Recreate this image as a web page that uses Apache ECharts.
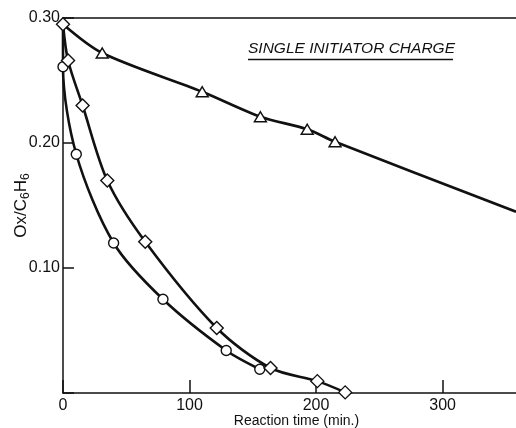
<!DOCTYPE html>
<html>
<head>
<meta charset="utf-8">
<script src="https://cdn.jsdelivr.net/npm/echarts@6/dist/echarts.min.js"></script>
<style>html,body{margin:0;padding:0;background:#fff}#c{width:516px;height:428px}</style>
</head>
<body>
<div id="c"></div>
<script>
// Data
const startPoint = [0, 0.295];
const diamondTime = [0, 4, 15.5, 35, 65, 121.5, 164, 201, 223];
const diamondOx   = [0.295, 0.266, 0.230, 0.170, 0.121, 0.052, 0.020, 0.0095, 0.0005];
const circleTime  = [0, 10.5, 40, 79, 129, 155.5];
const circleOx    = [0.261, 0.191, 0.120, 0.075, 0.034, 0.019];
const triangleTime = [31, 110, 156, 193, 215];
const triangleOx   = [0.272, 0.241, 0.221, 0.211, 0.201];
const triangleCurveEnd = [358, 0.145];
const xTicks = [0, 100, 200, 300];
const yTicks = [0.10, 0.20, 0.30];

const zip = (a, b) => a.map((v, i) => [v, b[i]]);
const diamonds = zip(diamondTime, diamondOx);
const circles = zip(circleTime, circleOx);
const triangles = zip(triangleTime, triangleOx);

const FONT = 'Liberation Sans';
const lineStyle = { color: '#111', width: 2.6 };
const markStyle = { color: '#fff', borderColor: '#111', borderWidth: 1.4, opacity: 1 };

const chart = echarts.init(document.getElementById('c'), null, { renderer: 'canvas' });
chart.setOption({
  animation: false,
  backgroundColor: '#fff',
  title: {
    text: 'SINGLE INITIATOR CHARGE',
    left: 248, top: 41, padding: 0,
    textStyle: { fontFamily: FONT, fontStyle: 'italic', fontWeight: 'normal', fontSize: 15.5, color: '#111' }
  },
  graphic: [{
    type: 'line', shape: { x1: 248, y1: 59.5, x2: 453, y2: 59.5 },
    style: { stroke: '#111', lineWidth: 1.5 }
  }],
  grid: { left: 63, right: 0, top: 18, bottom: 35, containLabel: false, outerBoundsMode: 'none' },
  xAxis: [{
    type: 'value', min: 0, max: 358, interval: 100,
    name: 'Reaction time (min.)', nameLocation: 'middle', nameGap: 21, nameMoveOverlap: false,
    nameTextStyle: { fontFamily: FONT, fontSize: 14, color: '#111', padding: [0, 0, 0, 14] },
    axisLine: { show: true, onZero: false, lineStyle: { color: '#111', width: 1.5 } },
    axisTick: { show: true, inside: true, length: 13, lineStyle: { color: '#111', width: 1.5 } },
    axisLabel: {
      fontFamily: FONT, fontSize: 16, color: '#111', margin: 5, showMaxLabel: false,
      formatter: v => xTicks.includes(v) ? String(v) : ''
    },
    splitLine: { show: false }
  }, {
    type: 'value', position: 'top', min: 0, max: 358,
    axisLine: { show: true, onZero: false, lineStyle: { color: '#111', width: 1.5 } },
    axisTick: { show: false }, axisLabel: { show: false }, splitLine: { show: false }
  }],
  yAxis: {
    type: 'value', min: 0, max: 0.3, interval: 0.1,
    name: '{a|Ox/C}{s|6}{a|H}{s|6}', nameLocation: 'middle', nameGap: 31, nameRotate: 90, nameMoveOverlap: false,
    nameTextStyle: {
      rich: {
        a: { fontFamily: FONT, fontSize: 17, color: '#111' },
        s: { fontFamily: FONT, fontSize: 12, color: '#111', padding: [9, 0, 0, 0] }
      }
    },
    axisLine: { show: true, onZero: false, lineStyle: { color: '#111', width: 1.5 } },
    axisTick: { show: true, inside: true, length: 11, lineStyle: { color: '#111', width: 1.5 } },
    axisLabel: {
      fontFamily: FONT, fontSize: 16, color: '#111', margin: 3,
      formatter: v => yTicks.some(t => Math.abs(t - v) < 1e-6) ? v.toFixed(2) : ''
    },
    splitLine: { show: false }
  },
  series: [
    { type: 'line', data: [startPoint].concat(triangles, [triangleCurveEnd]), smooth: 0.3, symbol: 'none', lineStyle, z: 2 },
    { type: 'line', data: diamonds, smooth: 0.3, symbol: 'none', lineStyle, z: 2 },
    { type: 'line', data: [startPoint].concat(circles), smooth: 0.3, symbol: 'none', lineStyle, z: 2 },
    { type: 'scatter', data: triangles, symbol: 'triangle', symbolSize: [12, 10], itemStyle: markStyle, z: 4 },
    { type: 'scatter', data: circles, symbol: 'circle', symbolSize: 10, itemStyle: markStyle, z: 4 },
    { type: 'scatter', data: diamonds, symbol: 'diamond', symbolSize: 13, itemStyle: markStyle, z: 5, clip: false }
  ]
});
</script>
</body>
</html>
